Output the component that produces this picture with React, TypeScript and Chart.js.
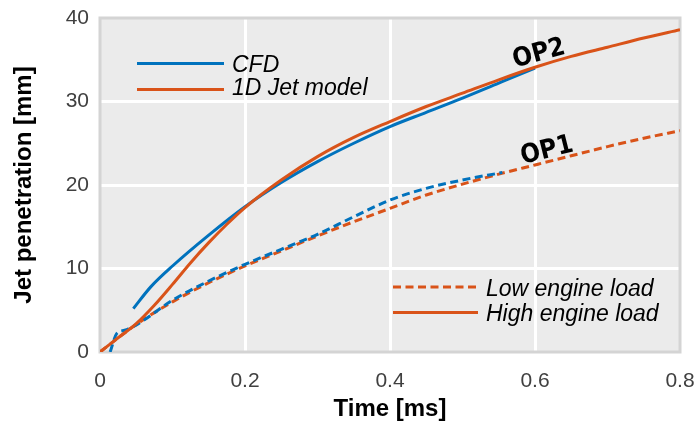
import React, { useEffect, useRef } from "react";
import { Chart, registerables } from "chart.js";

Chart.register(...registerables);

// ---- data (time in ms, penetration in mm) ----
const tModelHigh = [0, 0.025, 0.05, 0.075, 0.1, 0.125, 0.15, 0.175, 0.2, 0.25, 0.3, 0.35, 0.4, 0.45, 0.5, 0.55, 0.6, 0.65, 0.7, 0.75, 0.8];
const yModelHigh = [0, 1.7, 3.4, 5.6, 8.1, 10.7, 13.1, 15.3, 17.3, 20.6, 23.4, 25.7, 27.6, 29.4, 31.0, 32.6, 34.1, 35.4, 36.5, 37.6, 38.6];

const tCfdHigh = [0.046, 0.07, 0.1, 0.15, 0.2, 0.25, 0.3, 0.35, 0.4, 0.45, 0.5, 0.55, 0.6];
const yCfdHigh = [5.2, 7.8, 10.3, 14.0, 17.4, 20.3, 22.8, 25.0, 27.0, 28.7, 30.4, 32.2, 34.0];

const tModelLow = [0, 0.05, 0.1, 0.15, 0.2, 0.25, 0.3, 0.35, 0.4, 0.45, 0.5, 0.55, 0.6, 0.65, 0.7, 0.75, 0.8];
const yModelLow = [0, 3.3, 6.0, 8.3, 10.3, 12.1, 13.9, 15.6, 17.2, 18.8, 20.1, 21.3, 22.4, 23.5, 24.6, 25.6, 26.5];

const tCfdLow = [0.014, 0.023, 0.034, 0.053, 0.1, 0.15, 0.2, 0.25, 0.3, 0.35, 0.4, 0.45, 0.5, 0.555];
const yCfdLow = [0, 2.2, 2.6, 3.4, 6.2, 8.5, 10.5, 12.3, 14.1, 16.2, 18.2, 19.6, 20.6, 21.5];

const xTickLabels = ["0", "0.2", "0.4", "0.6", "0.8"];
const yTickLabels = ["0", "10", "20", "30", "40"];

const modelLegend = ["CFD", "1D Jet model"];
const loadLegend = ["Low engine load", "High engine load"];
const opLabels = ["OP2", "OP1"];

const BLUE = "#0072BD";
const ORANGE = "#D95319";
const FONT = '"Liberation Sans", Arial, Helvetica, sans-serif';
const NARROW = '"Liberation Sans Narrow", "DejaVu Sans Condensed", "Liberation Sans", sans-serif';

const pts = (t: number[], y: number[]) => t.map((x, i) => ({ x, y: y[i] }));

export default function App() {
  const ref = useRef<HTMLCanvasElement>(null);

  useEffect(() => {
    document.body.style.margin = "0";
    const canvas = ref.current!;

    const bgPlugin = {
      id: "bg",
      beforeDraw(chart: any) {
        const { ctx, chartArea: a } = chart;
        ctx.save();
        ctx.fillStyle = "#ebebeb";
        ctx.fillRect(a.left, a.top, a.right - a.left, a.bottom - a.top);
        ctx.restore();
      },
      beforeDatasetsDraw(chart: any) {
        const { ctx, chartArea: a } = chart;
        ctx.save();
        ctx.strokeStyle = "#d4d4d4";
        ctx.lineWidth = 3;
        ctx.strokeRect(a.left, a.top, a.right - a.left, a.bottom - a.top);
        ctx.restore();
      },
    };

    const annoPlugin = {
      id: "anno",
      afterDraw(chart: any) {
        const { ctx } = chart;
        ctx.save();
        const drawEntry = (x0: number, x1: number, y: number, color: string, dash: number[], label: string, baseline: number) => {
          ctx.strokeStyle = color;
          ctx.lineWidth = 3;
          ctx.setLineDash(dash);
          ctx.beginPath();
          ctx.moveTo(x0, y);
          ctx.lineTo(x1, y);
          ctx.stroke();
          ctx.setLineDash([]);
          ctx.fillStyle = "#000";
          ctx.font = `italic 23px ${FONT}`;
          ctx.textAlign = "left";
          ctx.textBaseline = "alphabetic";
          ctx.fillText(label, x1 + 8, baseline);
        };
        drawEntry(137, 224, 63.5, BLUE, [], modelLegend[0], 71.5);
        drawEntry(137, 224, 89.5, ORANGE, [], modelLegend[1], 95);
        drawEntry(393, 478, 287, ORANGE, [8, 4.5], loadLegend[0], 296);
        drawEntry(393, 478, 312.5, ORANGE, [], loadLegend[1], 321);

        ctx.fillStyle = "#000";
        ctx.font = `bold 26px ${NARROW}`;
        ctx.textAlign = "center";
        ctx.textBaseline = "middle";
        const drawRot = (txt: string, x: number, y: number, ang: number) => {
          ctx.save();
          ctx.translate(x, y);
          ctx.rotate((ang * Math.PI) / 180);
          ctx.fillText(txt, 0, 0);
          ctx.restore();
        };
        drawRot(opLabels[0], 539, 54, -15);
        drawRot(opLabels[1], 547, 151, -14);
        ctx.restore();
      },
    };

    const gridColor = (c: any, max: number) => {
      const v = c.tick?.value;
      if (v === undefined) return "transparent";
      if (Math.abs(v) < 1e-9 || Math.abs(v - max) < 1e-9) return "transparent";
      return "#ffffff";
    };

    const common = { borderWidth: 3, pointRadius: 0, cubicInterpolationMode: "monotone" };

    const chart = new Chart(canvas, {
      type: "line",
      data: {
        datasets: [
          { ...common, label: "1D Jet model - High", data: pts(tModelHigh, yModelHigh), borderColor: ORANGE, order: 0 },
          { ...common, label: "CFD - High", data: pts(tCfdHigh, yCfdHigh), borderColor: BLUE, order: 1 },
          { ...common, label: "CFD - Low", data: pts(tCfdLow, yCfdLow), borderColor: BLUE, borderDash: [8, 4.5], order: 2 },
          { ...common, label: "1D Jet model - Low", data: pts(tModelLow, yModelLow), borderColor: ORANGE, borderDash: [8, 4.5], order: 3 },
        ],
      },
      options: {
        responsive: false,
        animation: false,
        devicePixelRatio: 1,
        layout: { padding: { top: 18, right: 15, left: 0, bottom: 0 } },
        plugins: { legend: { display: false }, tooltip: { enabled: false } },
        scales: {
          x: {
            type: "linear",
            min: 0,
            max: 0.8,
            ticks: {
              stepSize: 0.2,
              padding: 17,
              color: "#404040",
              font: { family: FONT, size: 21 },
              callback: (v: any) => {
                const i = Math.round(Number(v) / 0.2);
                return xTickLabels[i] ?? "";
              },
            },
            grid: { color: (c: any) => gridColor(c, 0.8), lineWidth: 3, drawTicks: false },
            border: { display: false },
            title: {
              display: true,
              text: "Time [ms]",
              color: "#000",
              font: { family: FONT, size: 24, weight: "bold" },
              padding: { top: 0, bottom: 1 },
            },
            afterFit: (s: any) => {
              s.height = 73;
              s.paddingLeft = 0;
              s.paddingRight = 0;
            },
          },
          y: {
            type: "linear",
            min: 0,
            max: 40,
            ticks: {
              stepSize: 10,
              padding: 11,
              color: "#404040",
              font: { family: FONT, size: 21 },
              callback: (v: any) => {
                const i = Math.round(Number(v) / 10);
                return yTickLabels[i] ?? "";
              },
            },
            grid: { color: (c: any) => gridColor(c, 40), lineWidth: 3, drawTicks: false },
            border: { display: false },
            title: {
              display: true,
              text: "Jet penetration [mm]",
              color: "#000",
              font: { family: FONT, size: 24, weight: "bold" },
              padding: { top: 10, bottom: 0 },
            },
            afterFit: (s: any) => {
              s.width = 100;
              s.paddingTop = 0;
              s.paddingBottom = 0;
            },
          },
        },
      },
      plugins: [bgPlugin, annoPlugin],
    } as any);

    return () => chart.destroy();
  }, []);

  return (
    <div style={{ width: 695, height: 425 }}>
      <canvas ref={ref} width={695} height={425} style={{ width: 695, height: 425, display: "block" }} />
    </div>
  );
}
